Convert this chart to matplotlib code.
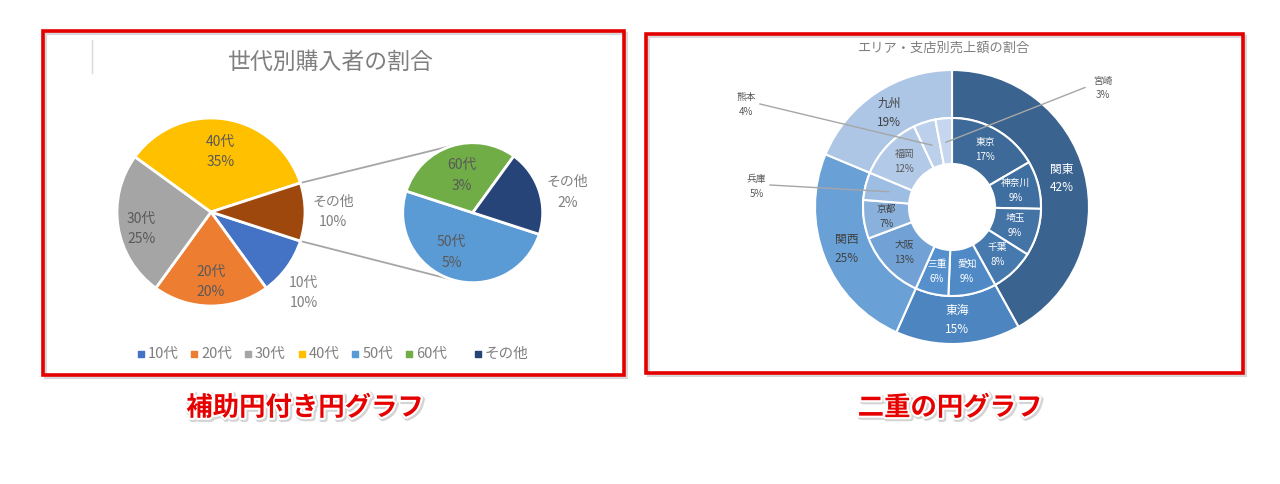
import numpy as np
import matplotlib.pyplot as plt
import matplotlib.patheffects as pe
from matplotlib.patches import Rectangle

plt.rcParams['font.family'] = ['Noto Sans CJK JP', 'DejaVu Sans']

W, H = 1280, 484

# 補助円付き円グラフ
main_labels = ['10代', '20代', '30代', '40代', 'その他']
main_values = [10, 20, 25, 35, 10]
main_colors = ['#4472C4', '#ED7D31', '#A5A5A5', '#FFC000', '#9E480E']
sub_labels = ['50代', '60代', 'その他']
sub_values = [5, 3, 2]
sub_colors = ['#5B9BD5', '#70AD47', '#264478']
legend_labels = ['10代', '20代', '30代', '40代', '50代', '60代', 'その他']
legend_colors = ['#4472C4', '#ED7D31', '#A5A5A5', '#FFC000', '#5B9BD5', '#70AD47', '#264478']

# 二重の円グラフ
area_labels = ['関東', '東海', '関西', '九州']
area_values = [41.9, 14.7, 24.6, 18.7]
area_colors = ['#3A648F', '#4C85C0', '#69A0D6', '#ADC6E6']
shop_labels = ['東京', '神奈川', '埼玉', '千葉', '愛知', '三重', '大阪', '京都', '兵庫', '福岡', '熊本', '宮崎']
shop_values = [16.6, 8.7, 8.6, 8.0, 8.7, 6.0, 12.6, 7.0, 5.0, 11.7, 4.0, 3.0]
shop_colors = ['#3D6A98', '#3F6FA0', '#4473A6', '#4679AE', '#508AC6', '#5590CC',
               '#72A2D5', '#8AB1DC', '#9EBDE3', '#B2C9E8', '#BDD0EB', '#C6D6EE']


def Y(y):
    return H - y


def label2(x, y, top, bottom, gap, **kw):
    ax.text(x, y + gap / 2, top, ha='center', va='center', **kw)
    ax.text(x, y - gap / 2, bottom, ha='center', va='center', **kw)


def wedge_point(w, c, r, frac, shift=0):
    a = np.deg2rad((w.theta1 + w.theta2) / 2 + shift)
    return c[0] + frac * r * np.cos(a), c[1] + frac * r * np.sin(a)


def tangent(p, c, r, sign):
    v = np.asarray(p) - np.asarray(c)
    d = np.hypot(v[0], v[1])
    a = np.arctan2(v[1], v[0]) + sign * np.arccos(r / d)
    return c[0] + r * np.cos(a), c[1] + r * np.sin(a)


fig = plt.figure(figsize=(W / 100, H / 100), dpi=100)
ax = fig.add_axes([0, 0, 1, 1])

# ---- left chart ----
mc, mr = (211, Y(212)), 94
sc, sr = (472.7, Y(212.7)), 70
wm, _ = ax.pie(main_values, colors=main_colors, center=mc, radius=mr, startangle=-18,
               counterclock=False, wedgeprops=dict(edgecolor='white', linewidth=2))
ws, _ = ax.pie(sub_values, colors=sub_colors, center=sc, radius=sr, startangle=-18,
               counterclock=False, wedgeprops=dict(edgecolor='white', linewidth=2))

main_pos = [(1.31, -5), (0.745, 0), (0.76, 5), (0.65, 0), (1.3, 0)]
for w, lab, v, (f, s) in zip(wm, main_labels, main_values, main_pos):
    x, y = wedge_point(w, mc, mr, f, s)
    col = '#7f7f7f' if f > 1 else '#595959'
    label2(x, y, lab, f'{v}%', 20, color=col, fontsize=10)

sub_pos = [(0.64, -10), (0.55, -1.5), (1.38, -6)]
for w, lab, v, (f, s) in zip(ws, sub_labels, sub_values, sub_pos):
    x, y = wedge_point(w, sc, sr, f, s)
    col = '#7f7f7f' if f > 1 else '#595959'
    label2(x, y, lab, f'{v}%', 21, color=col, fontsize=10)

# connector lines from その他 slice to sub pie
other = wm[-1]
for ang, sign in [(other.theta2, -1), (other.theta1, 1)]:
    p = (mc[0] + mr * np.cos(np.deg2rad(ang)), mc[1] + mr * np.sin(np.deg2rad(ang)))
    q = tangent(p, sc, sr, sign)
    ax.plot([p[0], q[0]], [p[1], q[1]], color='#a6a6a6', lw=1.3, zorder=0)

ax.text(331, Y(62), '世代別購入者の割合', ha='center', va='center', fontsize=16.5, color='#7f7f7f')
ax.plot([92, 92], [Y(40), Y(73)], color='#d9d9d9', lw=1)

leg_x = [140.7, 194.3, 248, 301.7, 355.3, 409.3, 478]
for x, lab, col in zip(leg_x, legend_labels, legend_colors):
    ax.scatter([x], [Y(354)], marker='s', s=14, color=col, zorder=5)
    ax.text(x + 7, Y(354), lab, ha='left', va='center', fontsize=10.5, color='#7f7f7f')

# ---- right chart ----
dc = (952, Y(207))
wo, _ = ax.pie(area_values, colors=area_colors, center=dc, radius=137, startangle=90,
               counterclock=False, wedgeprops=dict(width=48, edgecolor='white', linewidth=1.5))
wi, _ = ax.pie(shop_values, colors=shop_colors, center=dc, radius=89, startangle=90,
               counterclock=False, wedgeprops=dict(width=46, edgecolor='white', linewidth=1.5))

tot = sum(area_values)
area_text = ['white', 'white', '#404040', '#404040']
for w, lab, v, col in zip(wo, area_labels, area_values, area_text):
    x, y = wedge_point(w, dc, 113, 1.0)
    label2(x, y, lab, f'{v / tot * 100:.0f}%', 18.5, color=col, fontsize=8.5)

shop_text = ['white'] * 6 + ['#404040', '#404040', None, '#595959', None, None]
outside = {'兵庫': ((756.5, 186.5), (770, 185)),
           '熊本': ((746, 104.5), (760, 104)),
           '宮崎': ((1103, 88), (1085, 87.5))}
for w, lab, v, col in zip(wi, shop_labels, shop_values, shop_text):
    pct = f'{v / tot * 100:.0f}%'
    if lab in outside:
        (tx, ty), (lx, ly) = outside[lab]
        ex, ey = wedge_point(w, dc, 65, 1.0)
        ax.plot([lx, ex], [Y(ly), ey], color='#a6a6a6', lw=1, zorder=5)
        label2(tx, Y(ty), lab, pct, 15, color='#595959', fontsize=7)
    else:
        x, y = wedge_point(w, dc, 66, 1.0)
        label2(x, y, lab, pct, 15, color=col, fontsize=7)

ax.text(944, Y(48), 'エリア・支店別売上額の割合', ha='center', va='center', fontsize=9.5, color='#7f7f7f')

# ---- frames and captions ----
for x0, y0, x1, y1 in [(43, 30.7, 623.7, 374.5), (646.3, 33.7, 1243.3, 373.3)]:
    ax.add_patch(Rectangle((x0 + 2, Y(y1) - 2), x1 - x0, y1 - y0, fill=False,
                           edgecolor='#d8d8d8', lw=2.2, zorder=9))
    ax.add_patch(Rectangle((x0, Y(y1)), x1 - x0, y1 - y0, fill=False,
                           edgecolor='#E50000', lw=2.6, zorder=10))

cap_fx = [pe.Stroke(linewidth=4, foreground='#d4d4d4', offset=(1, -1)),
          pe.Stroke(linewidth=3, foreground='white'), pe.Normal()]
ax.text(305, Y(408), '補助円付き円グラフ', ha='center', va='center', fontsize=19,
        color='#E60000', fontweight='bold', path_effects=cap_fx)
ax.text(950, Y(408), '二重の円グラフ', ha='center', va='center', fontsize=19,
        color='#E60000', fontweight='bold', path_effects=cap_fx)

ax.set_xlim(0, W)
ax.set_ylim(0, H)
ax.axis('off')
fig.savefig('out.png', dpi=100)
